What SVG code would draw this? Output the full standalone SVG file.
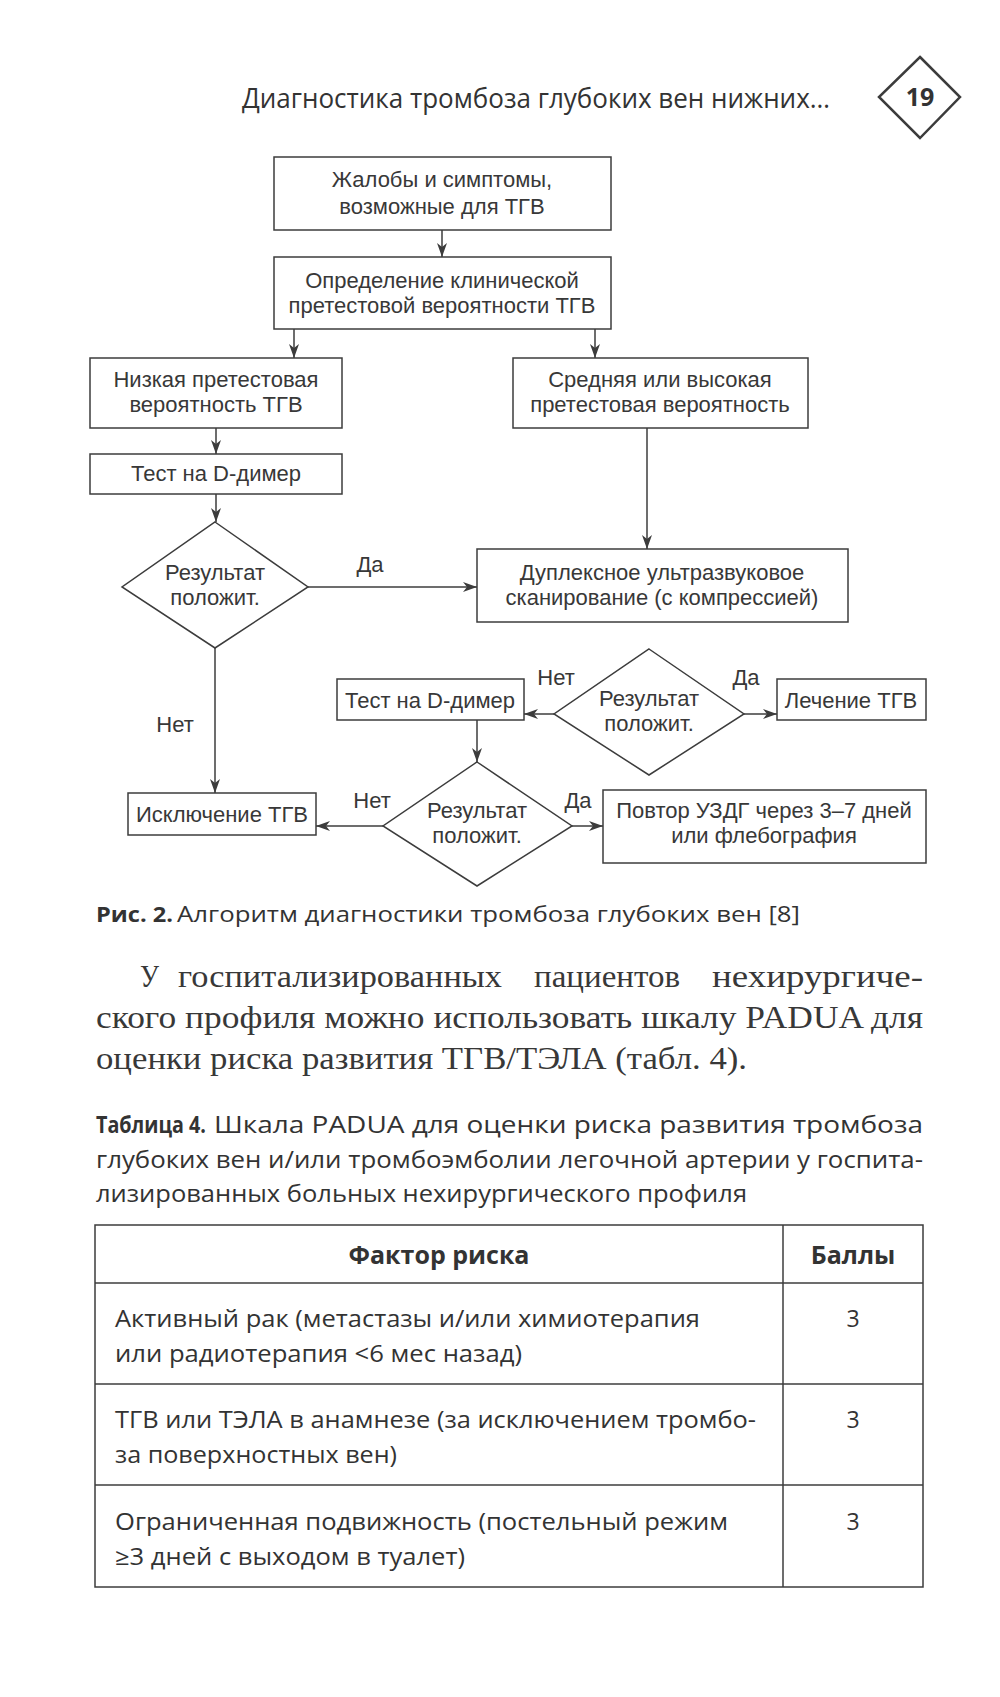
<svg xmlns="http://www.w3.org/2000/svg" width="1000" height="1697" viewBox="0 0 1000 1697">
<style>
.bx{fill:none;stroke:#3c3c3c;stroke-width:1.5}
.ln{fill:none;stroke:#3c3c3c;stroke-width:1.5}
.t{font-family:"Liberation Sans",Arial,sans-serif;font-size:22px;fill:#383838;text-anchor:middle}
.m{font-family:"Open Sans","Noto Sans",sans-serif;fill:#333}
.s{font-family:"Liberation Serif","Times New Roman",serif;font-size:32px;fill:#383838}
.b{font-weight:bold}
</style>
<defs>
<marker id="ah" markerUnits="userSpaceOnUse" markerWidth="15" markerHeight="11" refX="14" refY="5" orient="auto">
<path d="M0,0 L14,5 L0,10 L4,5 z" fill="#3c3c3c"/>
</marker>
</defs>
<rect width="1000" height="1697" fill="#fff"/>

<g id="page-header">
<text class="m" x="242" y="108" font-size="28" textLength="588" lengthAdjust="spacingAndGlyphs">Диагностика тромбоза глубоких вен нижних…</text>
<polygon points="920,57 960,97 920,138 879,97" fill="none" stroke="#3c3c3c" stroke-width="2.5"/>
<text class="m b" x="920" y="106" font-size="25" text-anchor="middle">19</text>
</g>

<g id="connectors">
<line class="ln" x1="442" y1="230" x2="442" y2="257" marker-end="url(#ah)"/>
<line class="ln" x1="294" y1="329" x2="294" y2="358" marker-end="url(#ah)"/>
<line class="ln" x1="595" y1="329" x2="595" y2="358" marker-end="url(#ah)"/>
<line class="ln" x1="216" y1="428" x2="216" y2="454" marker-end="url(#ah)"/>
<line class="ln" x1="216" y1="494" x2="216" y2="522" marker-end="url(#ah)"/>
<line class="ln" x1="647" y1="428" x2="647" y2="549" marker-end="url(#ah)"/>
<line class="ln" x1="308" y1="587" x2="477" y2="587" marker-end="url(#ah)"/>
<line class="ln" x1="215" y1="648" x2="215" y2="793" marker-end="url(#ah)"/>
<line class="ln" x1="554" y1="714" x2="524" y2="714" marker-end="url(#ah)"/>
<line class="ln" x1="744" y1="714" x2="777" y2="714" marker-end="url(#ah)"/>
<line class="ln" x1="477" y1="720" x2="477" y2="762" marker-end="url(#ah)"/>
<line class="ln" x1="383" y1="826" x2="316" y2="826" marker-end="url(#ah)"/>
<line class="ln" x1="572" y1="826" x2="603" y2="826" marker-end="url(#ah)"/>
<text class="t" x="370" y="572">Да</text>
<text class="t" x="175" y="732">Нет</text>
<text class="t" x="556" y="685">Нет</text>
<text class="t" x="746" y="685">Да</text>
<text class="t" x="372" y="808">Нет</text>
<text class="t" x="578" y="808">Да</text>
</g>

<g id="n-complaints">
<rect class="bx" x="274" y="157" width="337" height="73"/>
<text class="t" x="442" y="187">Жалобы и симптомы,</text>
<text class="t" x="442" y="214">возможные для ТГВ</text>
</g>
<g id="n-probability">
<rect class="bx" x="274" y="257" width="337" height="72"/>
<text class="t" x="442" y="288">Определение клинической</text>
<text class="t" x="442" y="313">претестовой вероятности ТГВ</text>
</g>
<g id="n-low">
<rect class="bx" x="90" y="358" width="252" height="70"/>
<text class="t" x="216" y="387">Низкая претестовая</text>
<text class="t" x="216" y="412">вероятность ТГВ</text>
</g>
<g id="n-high">
<rect class="bx" x="513" y="358" width="295" height="70"/>
<text class="t" x="660" y="387">Средняя или высокая</text>
<text class="t" x="660" y="412">претестовая вероятность</text>
</g>
<g id="n-ddimer1">
<rect class="bx" x="90" y="454" width="252" height="40"/>
<text class="t" x="216" y="481">Тест на D-димер</text>
</g>
<g id="n-dec1">
<polygon class="bx" points="215,522 308,587 215,648 122,587"/>
<text class="t" x="215" y="580">Результат</text>
<text class="t" x="215" y="605">положит.</text>
</g>
<g id="n-duplex">
<rect class="bx" x="477" y="549" width="371" height="73"/>
<text class="t" x="662" y="580">Дуплексное ультразвуковое</text>
<text class="t" x="662" y="605">сканирование (с компрессией)</text>
</g>
<g id="n-dec2">
<polygon class="bx" points="649,649 744,714 649,775 554,714"/>
<text class="t" x="649" y="706">Результат</text>
<text class="t" x="649" y="731">положит.</text>
</g>
<g id="n-ddimer2">
<rect class="bx" x="337" y="679" width="187" height="41"/>
<text class="t" x="430" y="708">Тест на D-димер</text>
</g>
<g id="n-treat">
<rect class="bx" x="777" y="679" width="149" height="41"/>
<text class="t" x="851" y="708">Лечение ТГВ</text>
</g>
<g id="n-exclude">
<rect class="bx" x="128" y="793" width="188" height="42"/>
<text class="t" x="222" y="822">Исключение ТГВ</text>
</g>
<g id="n-dec3">
<polygon class="bx" points="477,762 572,826 477,886 383,826"/>
<text class="t" x="477" y="818">Результат</text>
<text class="t" x="477" y="843">положит.</text>
</g>
<g id="n-repeat">
<rect class="bx" x="603" y="790" width="323" height="73"/>
<text class="t" x="764" y="818">Повтор УЗДГ через 3–7 дней</text>
<text class="t" x="764" y="843">или флебография</text>
</g>

<g id="caption">
<text class="m b" x="96" y="922" font-size="22" textLength="77" lengthAdjust="spacingAndGlyphs">Рис. 2.</text>
<text class="m" x="177" y="922" font-size="21" textLength="623" lengthAdjust="spacingAndGlyphs">Алгоритм диагностики тромбоза глубоких вен [8]</text>
</g>

<g id="paragraph">
<text class="s" x="140" y="987" textLength="19" lengthAdjust="spacingAndGlyphs">У</text>
<text class="s" x="178" y="987" textLength="324" lengthAdjust="spacingAndGlyphs">госпитализированных</text>
<text class="s" x="534" y="987" textLength="146" lengthAdjust="spacingAndGlyphs">пациентов</text>
<text class="s" x="712" y="987" textLength="211" lengthAdjust="spacingAndGlyphs">нехирургиче-</text>
<text class="s" x="96" y="1028" textLength="827" lengthAdjust="spacingAndGlyphs">ского профиля можно использовать шкалу PADUA для</text>
<text class="s" x="96" y="1069" textLength="651" lengthAdjust="spacingAndGlyphs">оценки риска развития ТГВ/ТЭЛА (табл. 4).</text>
</g>

<g id="table-title">
<text class="m b" x="96" y="1133" font-size="23" textLength="110" lengthAdjust="spacingAndGlyphs">Таблица 4.</text>
<text class="m" x="214" y="1133" font-size="23" textLength="709" lengthAdjust="spacingAndGlyphs">Шкала PADUA для оценки риска развития тромбоза</text>
<text class="m" x="96" y="1168" font-size="23" textLength="827" lengthAdjust="spacingAndGlyphs">глубоких вен и/или тромбоэмболии легочной артерии у госпита-</text>
<text class="m" x="96" y="1202" font-size="23" textLength="651" lengthAdjust="spacingAndGlyphs">лизированных больных нехирургического профиля</text>
</g>

<g id="table">
<rect class="bx" x="95" y="1225" width="828" height="362"/>
<line class="ln" x1="783" y1="1225" x2="783" y2="1587"/>
<line class="ln" x1="95" y1="1283" x2="923" y2="1283"/>
<line class="ln" x1="95" y1="1384" x2="923" y2="1384"/>
<line class="ln" x1="95" y1="1485" x2="923" y2="1485"/>
<text class="m b" x="439" y="1264" font-size="25" text-anchor="middle">Фактор риска</text>
<text class="m b" x="853" y="1264" font-size="25" text-anchor="middle">Баллы</text>
<text class="m" x="115" y="1327" font-size="23" textLength="585" lengthAdjust="spacingAndGlyphs">Активный рак (метастазы и/или химиотерапия</text>
<text class="m" x="115" y="1362" font-size="23" textLength="407" lengthAdjust="spacingAndGlyphs">или радиотерапия &lt;6 мес назад)</text>
<text class="m" x="853" y="1327" font-size="23" text-anchor="middle">3</text>
<text class="m" x="115" y="1428" font-size="23" textLength="641" lengthAdjust="spacingAndGlyphs">ТГВ или ТЭЛА в анамнезе (за исключением тромбо-</text>
<text class="m" x="115" y="1463" font-size="23" textLength="282" lengthAdjust="spacingAndGlyphs">за поверхностных вен)</text>
<text class="m" x="853" y="1428" font-size="23" text-anchor="middle">3</text>
<text class="m" x="115" y="1530" font-size="23" textLength="613" lengthAdjust="spacingAndGlyphs">Ограниченная подвижность (постельный режим</text>
<text class="m" x="115" y="1565" font-size="23" textLength="350" lengthAdjust="spacingAndGlyphs">≥3 дней с выходом в туалет)</text>
<text class="m" x="853" y="1530" font-size="23" text-anchor="middle">3</text>
</g>
</svg>
